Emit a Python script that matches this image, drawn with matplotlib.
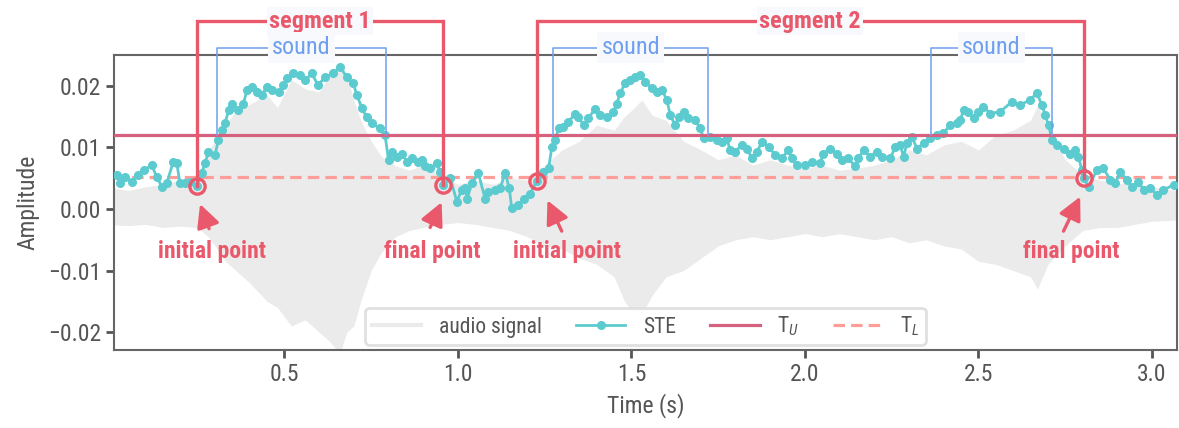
"""
STE-based segmentation of an audio clip: waveform, short-term energy and the
two thresholds, with the detected segments / sound regions marked.
"""
import numpy as np
import matplotlib
matplotlib.use("Agg")
import matplotlib.pyplot as plt
from matplotlib.lines import Line2D
from matplotlib import font_manager as fm


def pick_font(names):
    for n in names:
        try:
            fm.findfont(n, fallback_to_default=False)
            return n
        except Exception:
            pass
    return "DejaVu Sans"


FONT = pick_font(["Roboto Condensed", "Roboto"])
plt.rcParams["font.family"] = [FONT, "DejaVu Sans"]
plt.rcParams["mathtext.fontset"] = "custom"
plt.rcParams["mathtext.rm"] = FONT
plt.rcParams["mathtext.it"] = FONT + ":italic"
plt.rcParams["axes.unicode_minus"] = True

# ---- data --------------------------------------------------------------
# audio waveform envelope (upper / lower edge of the grey trace)
env_t = [0.01, 0.05, 0.10, 0.15, 0.20, 0.25, 0.28, 0.30, 0.33, 0.36, 0.40,
         0.45, 0.48, 0.52, 0.56, 0.60, 0.63, 0.66, 0.68, 0.70, 0.72, 0.75,
         0.78, 0.82, 0.86, 0.90, 0.95, 1.00, 1.05, 1.10, 1.15, 1.20, 1.25,
         1.30, 1.35, 1.40, 1.45, 1.48, 1.50, 1.53, 1.56, 1.60, 1.65, 1.70,
         1.75, 1.80, 1.85, 1.90, 1.95, 2.00, 2.05, 2.10, 2.15, 2.20, 2.25,
         2.30, 2.35, 2.40, 2.45, 2.50, 2.55, 2.60, 2.65, 2.67, 2.70, 2.75,
         2.80, 2.85, 2.90, 2.95, 3.00, 3.07]
env_hi = [0.0034, 0.0030, 0.0036, 0.0040, 0.0047, 0.0055, 0.0096, 0.0110,
          0.0136, 0.0160, 0.0170, 0.0185, 0.0165, 0.0210, 0.0195, 0.0190,
          0.0217, 0.0238, 0.0217, 0.0177, 0.0144, 0.0110, 0.0085, 0.0070,
          0.0063, 0.0071, 0.0055, 0.0040, 0.0047, 0.0040, 0.0050, 0.0047,
          0.0071, 0.0096, 0.0110, 0.0136, 0.0128, 0.0150, 0.0160, 0.0177,
          0.0152, 0.0144, 0.0110, 0.0096, 0.0080, 0.0088, 0.0071, 0.0080,
          0.0071, 0.0066, 0.0071, 0.0063, 0.0066, 0.0071, 0.0080, 0.0096,
          0.0088, 0.0104, 0.0110, 0.0096, 0.0120, 0.0128, 0.0144, 0.0169,
          0.0128, 0.0080, 0.0055, 0.0047, 0.0042, 0.0040, 0.0036, 0.0030]
env_lo = [-0.0026, -0.0027, -0.0025, -0.0030, -0.0028, -0.0030, -0.0045,
          -0.0060, -0.0085, -0.0100, -0.0120, -0.0150, -0.0160, -0.0190,
          -0.0180, -0.0200, -0.0215, -0.0235, -0.0200, -0.0190, -0.0150,
          -0.0100, -0.0070, -0.0045, -0.0035, -0.0030, -0.0025, -0.0022,
          -0.0025, -0.0030, -0.0035, -0.0045, -0.0060, -0.0065, -0.0080,
          -0.0090, -0.0110, -0.0150, -0.0165, -0.0170, -0.0140, -0.0110,
          -0.0100, -0.0080, -0.0060, -0.0050, -0.0045, -0.0050, -0.0045,
          -0.0040, -0.0045, -0.0040, -0.0045, -0.0050, -0.0045, -0.0055,
          -0.0050, -0.0060, -0.0065, -0.0085, -0.0090, -0.0100, -0.0110,
          -0.0130, -0.0090, -0.0060, -0.0035, -0.0030, -0.0030, -0.0025,
          -0.0020, -0.0018]

# short-term energy per frame
ste_t = [0.017, 0.027, 0.041, 0.060, 0.079, 0.094, 0.118, 0.132, 0.147, 0.161,
         0.180, 0.190, 0.199, 0.214, 0.228, 0.248, 0.262, 0.271, 0.281, 0.300,
         0.310, 0.320, 0.329, 0.339, 0.348, 0.367, 0.382, 0.392, 0.406, 0.420,
         0.435, 0.449, 0.464, 0.483, 0.497, 0.507, 0.525, 0.545, 0.560, 0.579,
         0.597, 0.617, 0.640, 0.661, 0.680, 0.698, 0.709, 0.723, 0.737, 0.752,
         0.776, 0.790, 0.800, 0.810, 0.824, 0.838, 0.853, 0.867, 0.886, 0.896,
         0.905, 0.920, 0.939, 0.949, 0.958, 0.978, 0.997, 1.011, 1.021, 1.027,
         1.040, 1.059, 1.078, 1.088, 1.107, 1.122, 1.136, 1.148, 1.155, 1.174,
         1.189, 1.208, 1.227, 1.246, 1.261, 1.271, 1.280, 1.290, 1.304, 1.318,
         1.338, 1.347, 1.362, 1.376, 1.395, 1.410, 1.429, 1.448, 1.458, 1.467,
         1.482, 1.496, 1.511, 1.525, 1.540, 1.559, 1.573, 1.588, 1.602, 1.612,
         1.626, 1.636, 1.650, 1.664, 1.684, 1.698, 1.708, 1.727, 1.746, 1.761,
         1.775, 1.784, 1.799, 1.818, 1.833, 1.847, 1.862, 1.876, 1.895, 1.914,
         1.933, 1.952, 1.962, 1.977, 2.001, 2.020, 2.044, 2.053, 2.073, 2.092,
         2.106, 2.125, 2.145, 2.154, 2.169, 2.188, 2.207, 2.222, 2.246, 2.260,
         2.274, 2.284, 2.294, 2.308, 2.323, 2.342, 2.361, 2.380, 2.399, 2.418,
         2.438, 2.447, 2.457, 2.471, 2.486, 2.500, 2.514, 2.534, 2.563, 2.596,
         2.620, 2.649, 2.668, 2.683, 2.692, 2.702, 2.712, 2.726, 2.745, 2.765,
         2.779, 2.788, 2.798, 2.803, 2.817, 2.841, 2.860, 2.880, 2.894, 2.908,
         2.928, 2.942, 2.961, 2.976, 2.995, 3.014, 3.033, 3.062]
ste_v = [0.0055, 0.0042, 0.0052, 0.0044, 0.0055, 0.0063, 0.0071, 0.0052, 0.0036, 0.0042,
         0.0077, 0.0074, 0.0042, 0.0042, 0.0044, 0.0038, 0.0058, 0.0074, 0.0093, 0.0088,
         0.0112, 0.0128, 0.0139, 0.0160, 0.0171, 0.0160, 0.0171, 0.0193, 0.0198, 0.0190,
         0.0185, 0.0198, 0.0193, 0.0190, 0.0201, 0.0212, 0.0220, 0.0217, 0.0209, 0.0220,
         0.0201, 0.0214, 0.0220, 0.0230, 0.0214, 0.0204, 0.0185, 0.0164, 0.0149, 0.0139,
         0.0131, 0.0120, 0.0079, 0.0093, 0.0085, 0.0090, 0.0077, 0.0082, 0.0077, 0.0079,
         0.0069, 0.0066, 0.0074, 0.0060, 0.0039, 0.0050, 0.0012, 0.0031, 0.0034, 0.0017,
         0.0042, 0.0058, 0.0017, 0.0028, 0.0031, 0.0034, 0.0058, 0.0034, 0.0001, 0.0006,
         0.0017, 0.0025, 0.0045, 0.0060, 0.0066, 0.0101, 0.0112, 0.0131, 0.0133, 0.0141,
         0.0155, 0.0150, 0.0136, 0.0147, 0.0163, 0.0152, 0.0150, 0.0158, 0.0171, 0.0188,
         0.0204, 0.0209, 0.0214, 0.0217, 0.0206, 0.0196, 0.0190, 0.0193, 0.0177, 0.0152,
         0.0136, 0.0150, 0.0158, 0.0147, 0.0144, 0.0131, 0.0115, 0.0117, 0.0112, 0.0109,
         0.0115, 0.0096, 0.0093, 0.0104, 0.0098, 0.0082, 0.0093, 0.0109, 0.0101, 0.0088,
         0.0082, 0.0096, 0.0082, 0.0071, 0.0071, 0.0077, 0.0074, 0.0090, 0.0098, 0.0090,
         0.0079, 0.0082, 0.0069, 0.0082, 0.0096, 0.0085, 0.0093, 0.0085, 0.0082, 0.0101,
         0.0104, 0.0085, 0.0107, 0.0117, 0.0098, 0.0107, 0.0115, 0.0120, 0.0123, 0.0136,
         0.0139, 0.0144, 0.0160, 0.0158, 0.0147, 0.0158, 0.0166, 0.0155, 0.0158, 0.0174,
         0.0169, 0.0177, 0.0188, 0.0169, 0.0152, 0.0136, 0.0112, 0.0104, 0.0098, 0.0090,
         0.0096, 0.0085, 0.0063, 0.0050, 0.0036, 0.0063, 0.0066, 0.0047, 0.0042, 0.0060,
         0.0047, 0.0036, 0.0044, 0.0031, 0.0034, 0.0023, 0.0031, 0.0039]

T_U = 0.0120
T_L = 0.0052

seg_names = ["segment 1", "segment 2"]
seg_start = [0.248, 1.227]
seg_end = [0.958, 2.803]
seg_start_v = [0.0038, 0.0045]
seg_end_v = [0.0039, 0.0050]

snd_start = [0.305, 1.275, 2.363]
snd_end = [0.792, 1.722, 2.713]

# ---- styling ------------------------------------------------------------
C_AUDIO = "#ebebeb"
C_STE = "#5ccbd0"
C_TU = "#d5617f"
C_TL = "#ff9e98"
C_SEG = "#e9596b"
C_SND = "#6f9ff0"
C_AX = "#666666"
C_TXT = "#555555"

fig = plt.figure(figsize=(11.79, 4.28), dpi=100)
ax = fig.add_axes([0.0967, 0.1822, 0.9016, 0.6893])

ax.fill_between(env_t, env_lo, env_hi, color=C_AUDIO, lw=0, zorder=1)
ax.plot(ste_t, ste_v, color=C_STE, lw=2.0, marker="o", ms=5.5, zorder=3)
ax.axhline(T_U, color=C_TU, lw=2.3, zorder=4)
ax.axhline(T_L, color=C_TL, lw=2.3, dashes=(3.6, 1.9), zorder=2)

# segment brackets (start/end circles, vertical legs, top bar + label)
seg_top = 0.0305
for name, x0, x1, v0, v1 in zip(seg_names, seg_start, seg_end, seg_start_v, seg_end_v):
    ax.plot([x0, x0, x1, x1], [v0, seg_top, seg_top, v1], color=C_SEG, lw=2.4,
            clip_on=False, zorder=6, solid_joinstyle="miter")
    ax.plot([x0, x1], [v0, v1], ls="none", marker="o", ms=11, mfc="none",
            mec=C_SEG, mew=2.4, zorder=7, clip_on=False)
    ax.text((x0 + x1) / 2, seg_top, name, color=C_SEG, fontsize=17.5, fontweight="bold",
            ha="center", va="center", zorder=8, clip_on=False,
            bbox=dict(fc="#f7f9fc", ec="none", pad=1.5))

# sound brackets
snd_top = 0.0262
for x0, x1 in zip(snd_start, snd_end):
    ax.plot([x0, x0, x1, x1], [T_U, snd_top, snd_top, T_U], color=C_SND, lw=1.1,
            clip_on=False, zorder=5)
    ax.text((x0 + x1) / 2, snd_top, "sound", color=C_SND, fontsize=17.5,
            ha="center", va="center", zorder=8, clip_on=False,
            bbox=dict(fc="#f7f9fc", ec="none", pad=3))

# initial / final point call-outs
labels = ["initial point", "final point", "initial point", "final point"]
lab_x = [0.290, 0.927, 1.314, 2.767]
tail = [(0.283, -0.0032), (0.920, -0.0030), (1.299, -0.0036), (2.745, -0.0036)]
tip = [(0.257, 0.0008), (0.953, 0.0011), (1.258, 0.0014), (2.793, 0.0020)]
for lab, lx, tl, tp in zip(labels, lab_x, tail, tip):
    ax.annotate("", xy=tp, xytext=tl, zorder=7,
                arrowprops=dict(arrowstyle="-|>,head_length=0.7,head_width=0.35",
                                color=C_SEG, lw=2.4, mutation_scale=20,
                                shrinkA=0, shrinkB=0))
    ax.text(lx, -0.0069, lab, color=C_SEG, fontsize=17, fontweight="bold",
            ha="center", va="center", zorder=7)

ax.set_xlim(0.009, 3.072)
ax.set_ylim(-0.0229, 0.025)
ax.set_xticks([0.5, 1.0, 1.5, 2.0, 2.5, 3.0])
ax.set_yticks([-0.02, -0.01, 0.0, 0.01, 0.02])
ax.set_yticklabels(["\u22120.02", "\u22120.01", "0.00", "0.01", "0.02"])
ax.set_xlabel("Time (s)", fontsize=17, color=C_TXT, labelpad=5)
ax.set_ylabel("Amplitude", fontsize=17, color=C_TXT, labelpad=6)
ax.tick_params(colors=C_TXT, labelsize=17, length=6, width=2, direction="out")
for sp in ax.spines.values():
    sp.set_color(C_AX)
    sp.set_linewidth(1.5)

handles = [Line2D([], [], color=C_AUDIO, lw=3),
           Line2D([], [], color=C_STE, lw=2.0, marker="o", ms=5.5),
           Line2D([], [], color=C_TU, lw=2.3),
           Line2D([], [], color=C_TL, lw=2.3, dashes=(3.6, 1.9))]
leg = ax.legend(handles, ["audio signal", "STE", r"T$_U$", r"T$_L$"], ncol=4,
                loc="lower center", bbox_to_anchor=(0.5, 0.0), fontsize=15.5,
                frameon=True, fancybox=True, handlelength=2.3, columnspacing=1.6,
                borderpad=0.3, borderaxespad=0.25, labelcolor=C_TXT)
leg.get_frame().set_edgecolor("#dddddd")
leg.get_frame().set_linewidth(2)
leg.get_frame().set_alpha(0.9)
leg.set_zorder(9)

fig.savefig("out.png", dpi=100)
